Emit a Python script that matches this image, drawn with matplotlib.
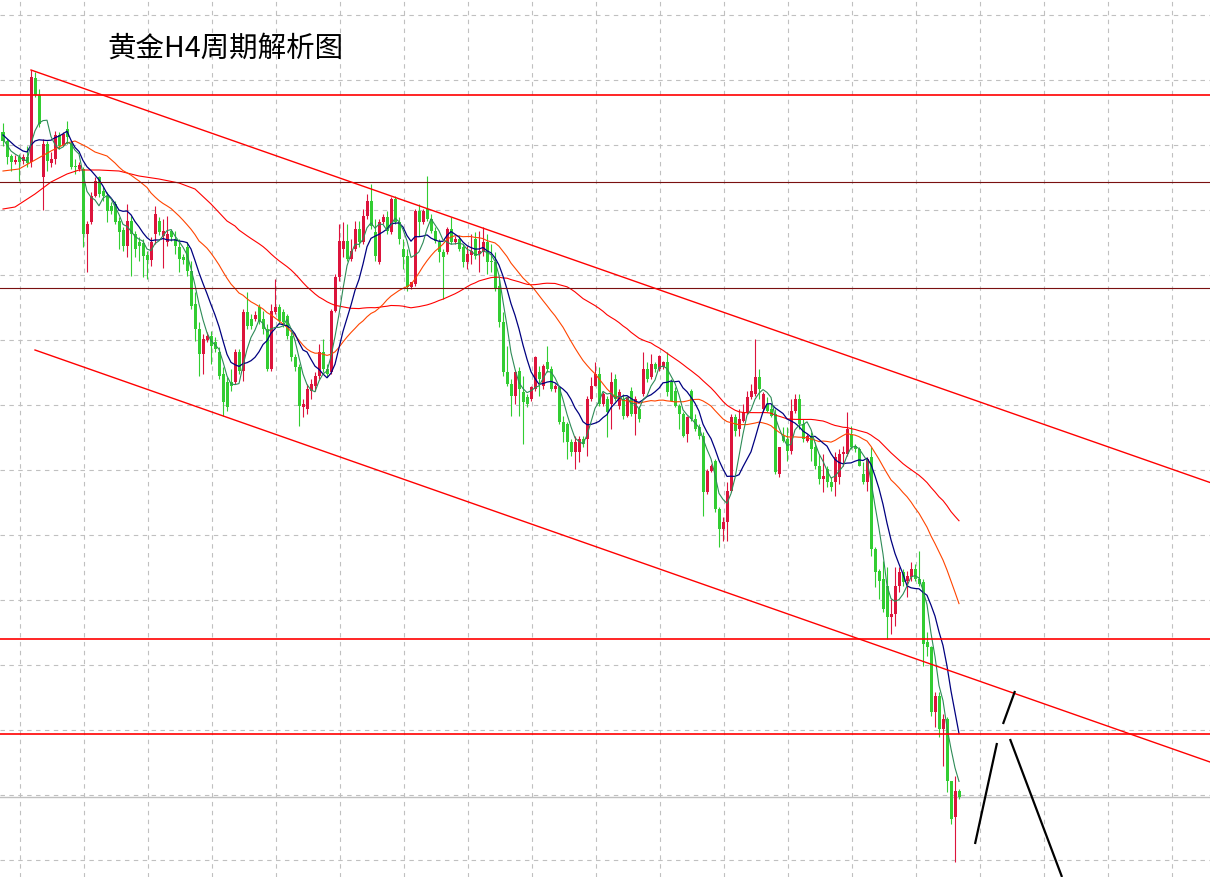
import numpy as np
import pandas as pd
import matplotlib
matplotlib.use('Agg')
import matplotlib.pyplot as plt

plt.rcParams['font.family'] = ['Noto Sans CJK SC', 'DejaVu Sans']

# %% H4 candles (gold)
opens = [2773.4, 2771.6, 2768.6, 2767.4, 2768.4, 2767.6, 2768.4, 2767.4, 2784.2, 2780.8,
         2764.4, 2771.0, 2767.2, 2768.0, 2772.8, 2770.8, 2774.0, 2771.0, 2766.6, 2766.0,
         2766.0, 2753.0, 2755.4, 2760.6, 2764.4, 2761.6, 2760.6, 2758.6, 2759.0, 2755.6,
         2753.8, 2750.6, 2755.6, 2753.0, 2751.4, 2751.2, 2748.8, 2747.8, 2753.0, 2755.6,
         2752.6, 2751.4, 2753.6, 2752.0, 2750.4, 2748.4, 2750.4, 2745.6, 2739.0, 2734.0,
         2729.0, 2731.8, 2732.6, 2731.4, 2729.4, 2725.0, 2723.4, 2723.4, 2723.4, 2729.4,
         2725.6, 2737.4, 2736.0, 2736.0, 2738.4, 2736.0, 2734.0, 2726.0, 2737.4, 2738.4,
         2737.4, 2736.6, 2732.6, 2728.4, 2726.4, 2718.4, 2718.0, 2721.6, 2722.6, 2724.6,
         2729.4, 2726.0, 2725.4, 2737.6, 2744.4, 2750.0, 2751.6, 2748.0, 2750.0, 2754.0,
         2751.4, 2756.6, 2759.6, 2753.4, 2747.4, 2755.4, 2756.4, 2753.4, 2760.0, 2755.4,
         2750.0, 2748.6, 2742.4, 2743.0, 2757.6, 2755.4, 2758.0, 2756.0, 2753.6, 2751.4,
         2749.4, 2749.4, 2754.0, 2751.4, 2752.0, 2750.4, 2747.4, 2748.8, 2752.0, 2749.0,
         2749.4, 2751.4, 2747.6, 2747.4, 2742.6, 2735.4, 2725.4, 2723.0, 2720.6, 2725.6,
         2721.4, 2720.4, 2720.0, 2722.0, 2725.4, 2722.6, 2727.4, 2726.0, 2722.0, 2722.4,
         2715.4, 2715.0, 2711.4, 2709.4, 2709.4, 2712.0, 2712.0, 2720.0, 2722.6, 2725.0,
         2719.0, 2720.0, 2719.0, 2724.0, 2718.6, 2720.0, 2716.6, 2721.6, 2717.0, 2718.0,
         2721.0, 2726.0, 2724.4, 2727.0, 2726.0, 2726.4, 2727.4, 2723.4, 2721.6, 2718.6,
         2717.0, 2713.0, 2721.6, 2716.0, 2714.4, 2712.6, 2701.4, 2705.6, 2707.6, 2698.0,
         2694.0, 2695.4, 2701.6, 2716.4, 2714.0, 2715.6, 2717.4, 2720.4, 2721.0, 2724.4,
         2718.0, 2719.0, 2718.0, 2717.0, 2705.0, 2712.6, 2712.0, 2709.6, 2717.6, 2720.0,
         2715.0, 2711.6, 2712.6, 2710.4, 2706.6, 2704.0, 2706.0, 2703.4, 2703.4, 2704.4,
         2709.0, 2709.0, 2713.0, 2710.6, 2710.0, 2705.0, 2703.4, 2708.4, 2690.0, 2685.6,
         2684.0, 2682.6, 2676.4, 2677.0, 2682.6, 2685.4, 2683.6, 2684.4, 2686.0, 2684.0,
         2683.4, 2671.4, 2670.4, 2657.4, 2660.6, 2654.0, 2656.0, 2643.6, 2636.4, 2641.6]

highs = [2775.2, 2772.0, 2769.0, 2768.8, 2769.0, 2769.0, 2770.6, 2785.8, 2785.4, 2782.0,
         2772.0, 2771.6, 2769.4, 2773.6, 2773.4, 2773.4, 2775.6, 2771.6, 2768.0, 2767.4,
         2766.4, 2755.6, 2761.4, 2764.4, 2764.6, 2762.4, 2761.4, 2759.4, 2759.6, 2756.4,
         2754.4, 2759.0, 2756.6, 2753.6, 2752.4, 2752.0, 2749.6, 2752.4, 2758.6, 2756.4,
         2756.0, 2756.6, 2754.0, 2753.6, 2752.0, 2749.0, 2751.4, 2747.6, 2741.4, 2735.4,
         2733.0, 2733.4, 2733.6, 2732.4, 2730.4, 2726.4, 2724.4, 2726.0, 2730.0, 2730.0,
         2738.0, 2741.4, 2737.0, 2737.6, 2739.0, 2737.6, 2735.0, 2739.0, 2744.0, 2739.0,
         2738.0, 2737.0, 2733.4, 2729.0, 2727.0, 2720.0, 2723.0, 2724.0, 2725.4, 2731.0,
         2732.0, 2727.0, 2738.0, 2745.0, 2755.0, 2755.4, 2755.0, 2752.0, 2755.6, 2755.6,
         2758.0, 2761.0, 2763.0, 2756.0, 2756.0, 2757.0, 2757.6, 2760.4, 2760.6, 2756.4,
         2752.0, 2750.0, 2743.4, 2758.0, 2759.0, 2758.0, 2764.6, 2757.0, 2754.4, 2752.0,
         2750.0, 2754.4, 2756.4, 2752.6, 2752.8, 2751.0, 2750.6, 2753.0, 2753.4, 2753.6,
         2754.4, 2753.0, 2751.0, 2749.4, 2744.0, 2737.4, 2730.6, 2724.0, 2725.6, 2726.4,
         2724.6, 2721.0, 2722.6, 2728.6, 2726.6, 2727.0, 2730.6, 2726.6, 2723.0, 2722.6,
         2716.6, 2715.4, 2712.0, 2712.6, 2712.6, 2712.6, 2720.6, 2724.4, 2727.4, 2726.4,
         2721.4, 2720.6, 2725.4, 2725.0, 2722.0, 2721.0, 2720.6, 2722.4, 2720.6, 2718.6,
         2729.4, 2727.4, 2729.0, 2727.4, 2728.8, 2727.6, 2729.4, 2724.0, 2722.4, 2719.0,
         2717.4, 2716.6, 2722.0, 2717.0, 2715.0, 2713.4, 2706.0, 2707.0, 2708.0, 2698.4,
         2696.4, 2703.4, 2717.0, 2717.0, 2718.0, 2719.0, 2721.6, 2723.0, 2732.0, 2726.0,
         2721.4, 2720.4, 2719.0, 2718.0, 2710.4, 2714.4, 2714.4, 2720.0, 2721.0, 2721.0,
         2716.0, 2713.0, 2713.4, 2711.4, 2709.0, 2709.0, 2706.6, 2704.4, 2709.4, 2710.0,
         2710.6, 2717.4, 2714.6, 2711.0, 2710.4, 2707.4, 2708.4, 2710.4, 2690.4, 2686.0,
         2687.6, 2686.4, 2680.0, 2686.4, 2686.4, 2686.0, 2685.6, 2687.4, 2687.0, 2689.6,
         2684.0, 2673.4, 2670.6, 2661.4, 2661.4, 2657.0, 2656.4, 2643.6, 2644.6, 2642.0]

lows = [2770.6, 2767.0, 2765.6, 2767.0, 2763.6, 2767.0, 2766.4, 2766.4, 2780.4, 2774.4,
        2757.8, 2765.6, 2766.4, 2767.0, 2770.0, 2770.6, 2771.0, 2766.0, 2765.0, 2765.6,
        2750.4, 2745.4, 2755.0, 2760.4, 2760.4, 2759.6, 2755.4, 2757.0, 2755.0, 2750.0,
        2749.6, 2748.4, 2744.6, 2748.4, 2747.6, 2744.4, 2744.0, 2746.6, 2751.0, 2752.8,
        2746.2, 2750.6, 2751.6, 2749.0, 2745.4, 2747.0, 2744.6, 2738.0, 2731.6, 2724.6,
        2725.0, 2731.4, 2727.0, 2729.4, 2724.0, 2716.6, 2717.6, 2721.6, 2723.0, 2725.0,
        2723.6, 2734.0, 2734.0, 2735.6, 2735.0, 2733.0, 2725.6, 2725.6, 2737.0, 2735.0,
        2734.4, 2732.0, 2727.6, 2725.6, 2714.6, 2716.4, 2717.0, 2720.0, 2721.6, 2724.0,
        2725.4, 2724.4, 2725.0, 2737.4, 2743.6, 2748.4, 2747.6, 2747.6, 2749.6, 2750.4,
        2751.0, 2756.0, 2754.0, 2747.6, 2747.0, 2755.0, 2753.0, 2753.0, 2755.0, 2751.0,
        2746.0, 2741.6, 2742.0, 2742.6, 2752.6, 2755.0, 2755.6, 2753.2, 2751.2, 2747.4,
        2740.0, 2749.0, 2751.0, 2751.0, 2749.6, 2746.4, 2746.0, 2747.0, 2748.0, 2745.4,
        2748.6, 2745.0, 2745.4, 2741.6, 2734.4, 2724.6, 2722.6, 2716.6, 2719.0, 2716.6,
        2711.0, 2718.4, 2719.6, 2721.6, 2720.6, 2722.0, 2725.4, 2721.6, 2721.4, 2715.0,
        2711.4, 2708.0, 2708.6, 2706.0, 2707.4, 2710.4, 2708.6, 2719.6, 2722.6, 2718.6,
        2718.6, 2712.4, 2714.0, 2719.6, 2718.0, 2716.0, 2716.4, 2716.6, 2712.8, 2715.4,
        2720.6, 2723.4, 2724.0, 2725.4, 2725.6, 2726.0, 2720.6, 2719.6, 2718.4, 2714.0,
        2712.4, 2711.4, 2715.6, 2713.6, 2712.0, 2696.6, 2701.0, 2705.4, 2697.4, 2690.4,
        2691.6, 2691.6, 2701.4, 2712.6, 2712.6, 2715.4, 2717.0, 2720.0, 2720.6, 2720.0,
        2717.4, 2717.4, 2716.4, 2705.0, 2704.4, 2711.4, 2707.6, 2709.0, 2717.2, 2714.0,
        2711.4, 2711.4, 2707.6, 2706.0, 2703.0, 2701.4, 2702.4, 2701.6, 2700.6, 2703.0,
        2706.6, 2708.6, 2710.0, 2709.4, 2706.6, 2703.0, 2701.6, 2688.6, 2682.4, 2680.0,
        2677.4, 2672.0, 2673.0, 2674.6, 2681.4, 2682.6, 2680.4, 2683.6, 2683.6, 2682.6,
        2666.6, 2668.6, 2656.6, 2654.4, 2652.4, 2646.6, 2641.4, 2635.0, 2627.4, 2640.0]

closes = [2771.6, 2768.4, 2767.4, 2767.8, 2767.4, 2768.4, 2767.2, 2784.4, 2780.8, 2775.0,
          2771.0, 2767.6, 2768.0, 2772.8, 2770.6, 2773.0, 2772.4, 2766.4, 2766.4, 2766.8,
          2753.0, 2755.0, 2760.6, 2763.6, 2761.0, 2760.6, 2757.6, 2757.6, 2755.4, 2753.4,
          2750.6, 2755.6, 2753.0, 2750.0, 2750.6, 2748.6, 2747.8, 2751.4, 2757.0, 2753.4,
          2753.6, 2753.0, 2752.4, 2750.6, 2748.0, 2747.8, 2745.6, 2738.6, 2734.0, 2729.0,
          2732.0, 2732.6, 2730.6, 2730.0, 2724.6, 2719.4, 2718.4, 2722.6, 2729.4, 2725.6,
          2737.4, 2734.6, 2734.6, 2736.8, 2735.6, 2734.0, 2726.0, 2737.6, 2738.4, 2735.6,
          2735.4, 2732.6, 2728.4, 2726.4, 2718.6, 2719.0, 2722.0, 2723.0, 2724.6, 2729.4,
          2726.0, 2725.0, 2737.6, 2744.4, 2751.6, 2751.6, 2748.0, 2749.6, 2754.0, 2751.4,
          2756.6, 2759.6, 2754.6, 2748.6, 2755.4, 2756.4, 2753.6, 2760.0, 2755.4, 2752.0,
          2748.4, 2742.4, 2743.4, 2757.6, 2755.4, 2757.6, 2756.0, 2753.6, 2751.6, 2749.4,
          2748.4, 2754.0, 2751.4, 2752.0, 2750.0, 2747.4, 2749.0, 2749.6, 2748.6, 2749.6,
          2751.4, 2747.4, 2747.4, 2742.0, 2735.4, 2725.4, 2723.0, 2720.6, 2725.4, 2722.0,
          2719.4, 2719.0, 2722.4, 2728.4, 2724.0, 2726.6, 2726.0, 2722.0, 2722.6, 2715.4,
          2713.4, 2711.4, 2709.4, 2711.4, 2712.0, 2711.0, 2720.0, 2722.6, 2725.0, 2719.0,
          2721.0, 2717.4, 2723.4, 2720.0, 2721.4, 2716.6, 2720.4, 2717.0, 2720.0, 2716.0,
          2726.0, 2724.0, 2727.0, 2726.0, 2728.6, 2727.4, 2721.4, 2719.6, 2718.6, 2717.0,
          2712.6, 2716.4, 2716.0, 2714.0, 2712.6, 2701.4, 2705.6, 2706.6, 2698.0, 2694.0,
          2695.4, 2701.6, 2716.4, 2713.6, 2716.0, 2717.4, 2720.4, 2721.6, 2724.4, 2722.0,
          2721.0, 2717.6, 2716.6, 2705.4, 2710.4, 2711.6, 2709.6, 2717.6, 2720.0, 2715.0,
          2712.0, 2712.6, 2710.0, 2706.6, 2704.0, 2704.6, 2703.4, 2702.4, 2708.4, 2709.0,
          2709.4, 2714.0, 2710.4, 2710.0, 2706.6, 2703.4, 2708.0, 2690.0, 2685.4, 2683.6,
          2678.0, 2676.4, 2677.0, 2682.6, 2685.4, 2683.4, 2684.6, 2686.0, 2684.0, 2683.0,
          2671.0, 2670.4, 2657.4, 2660.6, 2654.0, 2656.0, 2643.6, 2636.0, 2641.6, 2640.4]

# moving average values before enough bars are on screen
ma5_head_i = [0, 1, 2, 3]
ma5_head = [2772.0, 2770.8, 2769.6, 2769.0]
ma10_head_i = [0, 3, 5, 6, 7, 8]
ma10_head = [2772.8, 2770.6, 2769.6, 2769.4, 2770.8, 2771.6]
ma30_head_i = [0, 4, 8, 12, 16, 18, 21, 23, 26, 28]
ma30_head = [2765.6, 2766.0, 2767.8, 2769.6, 2771.2, 2771.6, 2770.4, 2769.4, 2768.6, 2767.2]
ma60_head_i = [0, 3, 8, 12, 16, 19, 24, 29, 34, 39, 44, 48, 52, 56, 58]
ma60_head = [2758.0, 2758.4, 2761.0, 2763.4, 2765.0, 2765.8, 2765.8, 2765.6, 2764.6,
             2764.0, 2763.2, 2762.0, 2759.0, 2755.6, 2754.6]

# support / resistance levels and channel
levels_main = [2780.8, 2672.0, 2653.0]
levels_minor = [2763.4, 2742.2]
channel_top = ([7, 301.75], [2785.8, 2703.3])
channel_bot = ([8, 301.75], [2729.8, 2647.4])
# hand-drawn projection strokes
arrow_up1 = ([243, 248.5], [2631.0, 2651.2])
arrow_up2 = ([250, 253], [2655.0, 2661.6])
arrow_down = ([251.75, 264.75], [2652.0, 2624.4])

# %% Data frame and MAs
df = pd.DataFrame({'open': opens, 'high': highs, 'low': lows, 'close': closes})
idx = np.arange(len(df))


def ma_line(period, head_i, head_v):
    ma = df['close'].rolling(period).mean()
    x = list(head_i) + list(idx[period - 1:])
    y = list(head_v) + list(ma.iloc[period - 1:])
    return x, y


ma5_x, ma5_y = ma_line(5, ma5_head_i, ma5_head)
ma10_x, ma10_y = ma_line(10, ma10_head_i, ma10_head)
ma30_x, ma30_y = ma_line(30, ma30_head_i, ma30_head)
ma60_x, ma60_y = ma_line(60, ma60_head_i, ma60_head)

# %% Plot
fig = plt.figure(figsize=(12.1, 8.78), dpi=100)
ax = fig.add_axes([0, 0, 1, 1])
ax.set_xlim(-0.75, 301.75)
ax.set_ylim(2624.4, 2800)
for s in ax.spines.values():
    s.set_visible(False)
ax.set_xticks([])
ax.set_yticks([])

# dashed grid
for gx in np.arange(4.25, 300, 16):
    ax.axvline(gx, color='#c0c0c0', lw=0.8, ls=(0, (4, 4)), zorder=0)
for gy in 2796.9 - 13 * np.arange(14):
    ax.axhline(gy, color='#c0c0c0', lw=0.8, ls=(0, (4, 4)), zorder=0)

up = df['close'] >= df['open']
cols = np.where(up, '#dc143c', '#32cd32')
ax.vlines(idx, df['low'], df['high'], colors=cols, lw=0.8, zorder=2)
body_lo = np.minimum(df['open'], df['close'])
body_h = np.maximum(np.abs(df['close'] - df['open']), 0.2)
ax.bar(idx, body_h, bottom=body_lo, width=0.75, color=cols, lw=0, zorder=2)

ax.plot(ma60_x, ma60_y, color='#ff0000', lw=0.8, zorder=3)
ax.plot(ma30_x, ma30_y, color='#ff4500', lw=0.8, zorder=3)
ax.plot(ma10_x, ma10_y, color='#000080', lw=0.9, zorder=3)
ax.plot(ma5_x, ma5_y, color='#2e8b57', lw=0.8, zorder=3)

# bid line
ax.axhline(closes[-1], color='#c0c0c0', lw=1, zorder=1)

for lv in levels_main:
    ax.axhline(lv, color='#ff0000', lw=1.2, zorder=4)
for lv in levels_minor:
    ax.axhline(lv, color='#7a1010', lw=0.8, zorder=4)
ax.plot(*channel_top, color='#ff0000', lw=1.0, zorder=4)
ax.plot(*channel_bot, color='#ff0000', lw=1.0, zorder=4)

for seg in (arrow_up1, arrow_up2, arrow_down):
    ax.plot(*seg, color='black', lw=1.6, zorder=5, solid_capstyle='butt')

ax.text(0.089, 0.945, '黄金H4周期解析图', transform=ax.transAxes, fontsize=20.5,
        ha='left', va='center', color='black')

fig.savefig('out.png', dpi=100)
